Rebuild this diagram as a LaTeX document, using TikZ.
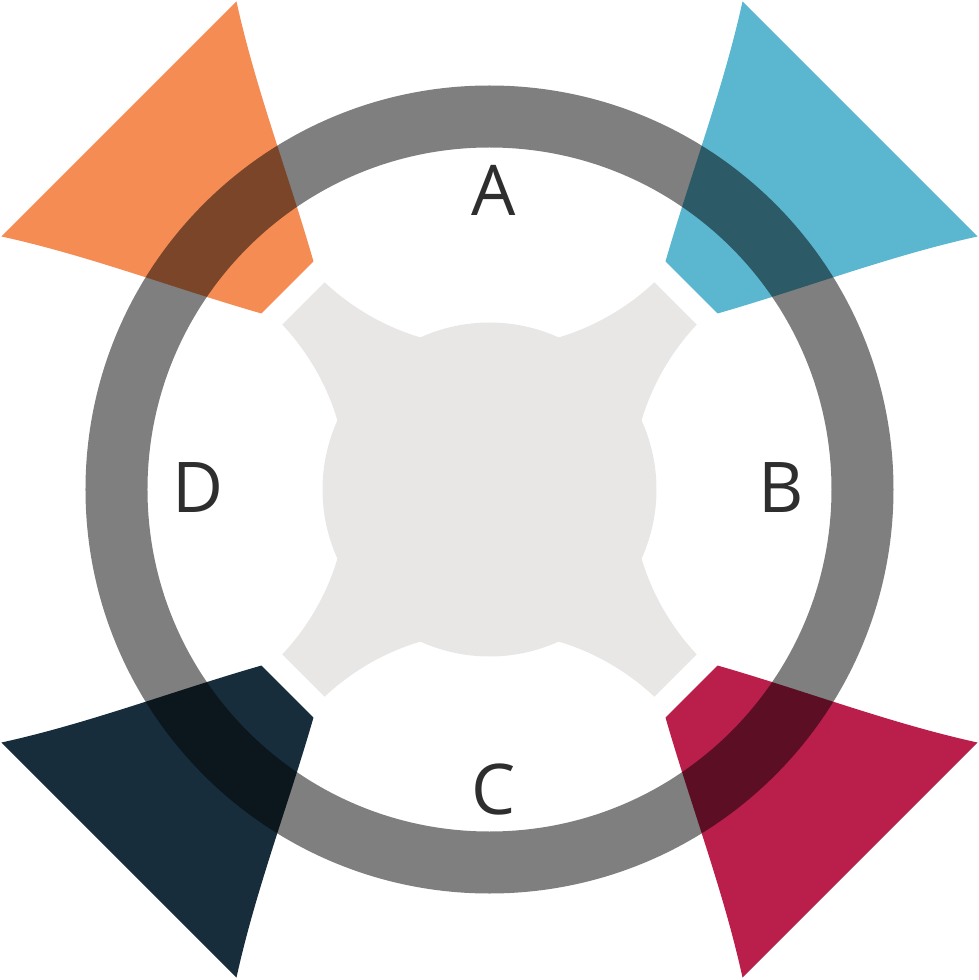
\documentclass[tikz,border=0pt]{standalone}
\usepackage{fontspec}
\setmainfont{Open Sans}
\definecolor{corange}{HTML}{F58C54}
\definecolor{cblue}{HTML}{5BB6CF}
\definecolor{cnavy}{HTML}{172D3B}
\definecolor{ccrimson}{HTML}{BA1E4B}
\definecolor{cgrey}{HTML}{E9E7E6}
\definecolor{ctext}{HTML}{2E2E2E}
\newcommand\flareshape[3]{%
  \fill[#3] ({#1*253},{#2*488}) .. controls ({#1*234},{#2*401}) and ({#1*201},{#2*315}) .. ({#1*176},{#2*228})
    -- ({#1*228},{#2*176}) .. controls ({#1*315},{#2*201}) and ({#1*401},{#2*234}) .. ({#1*488},{#2*253}) -- cycle;}
\begin{document}
\begin{tikzpicture}[x=1pt,y=-1pt,
  lbl/.style={font=\fontsize{70}{70}\selectfont, text=ctext, inner sep=0pt, anchor=center},
  ringstyle/.style={fill=black, fill opacity=0.5, even odd rule}]
\useasboundingbox (-489.5,-489.5) rectangle (489.5,490.5);
% central light grey shape: chamfered diamond minus four circles, plus a central disc
\begin{scope}
  \clip (0,-372) -- (372,0) -- (0,372) -- (-372,0) -- cycle;
  \fill[cgrey, even odd rule] (-400,-400) rectangle (400,400)
       (0,-383) circle[radius=241pt] (383,0) circle[radius=241pt]
       (0,383) circle[radius=241pt] (-383,0) circle[radius=241pt];
\end{scope}
\fill[cgrey] (0,0) circle[radius=167pt];
% corner flares
\flareshape{-1}{-1}{corange}
\flareshape{1}{-1}{cblue}
\flareshape{-1}{1}{cnavy}
\flareshape{1}{1}{ccrimson}
% ring
\fill[ringstyle] (0,0) circle[radius=404pt] (0,0) circle[radius=342pt];
% labels
\node[lbl] (A) at (4,-299.5) {A};
\node[lbl] (B) at (291.5,-1.5) {B};
\node[lbl] (C) at (4,300) {C};
\node[lbl] (D) at (-291.5,-2) {D};
\end{tikzpicture}
\end{document}
